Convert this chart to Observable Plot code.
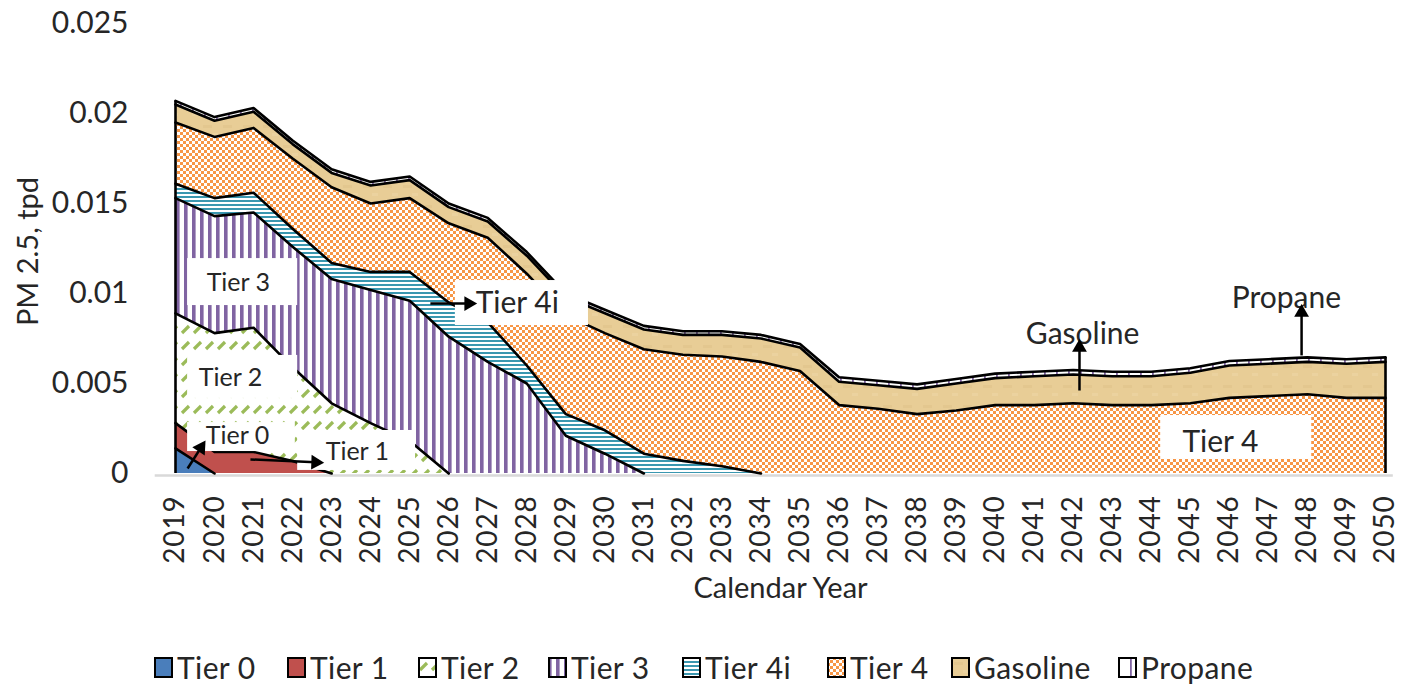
<!DOCTYPE html>
<html>
<head>
<meta charset="utf-8">
<script src="https://cdn.jsdelivr.net/npm/d3@7"></script>
<script src="https://cdn.jsdelivr.net/npm/@observablehq/plot@0.6"></script>
<style>
  html, body { margin: 0; padding: 0; background: #fff; }
  body { width: 1413px; height: 684px; overflow: hidden; font-family: Lato, "Noto Sans", sans-serif; color: #262626; }
  #chart svg g[aria-label="x-axis tick label"] text { letter-spacing: 0.8px; }
  #legend { position: relative; height: 44px; }
  .item { position: absolute; top: 5px; display: flex; align-items: center; font-size: 30px; line-height: 44px; color: #262626; letter-spacing: 0.4px; }
  .item svg { margin-right: 4px; }
</style>
</head>
<body>
<svg width="0" height="0" style="position:absolute">
  <defs>
    <pattern id="pTier2" patternUnits="userSpaceOnUse" width="12" height="16">
      <rect width="12" height="16" fill="#fff"/>
      <line x1="2" y1="13" x2="9" y2="6" stroke="#9bbb59" stroke-width="3.2"/>
    </pattern>
    <pattern id="pTier3" patternUnits="userSpaceOnUse" width="8" height="8">
      <rect width="8" height="8" fill="#fff"/>
      <rect x="0" y="0" width="3.6" height="8" fill="#8064a2"/>
    </pattern>
    <pattern id="pTier4i" patternUnits="userSpaceOnUse" width="8" height="4">
      <rect width="8" height="4" fill="#fff"/>
      <rect x="0" y="0" width="8" height="2" fill="#3a97b0"/>
    </pattern>
    <pattern id="pTier4" patternUnits="userSpaceOnUse" width="6" height="6">
      <rect width="6" height="6" fill="#fff"/>
      <rect x="0" y="0" width="3" height="3" fill="#f79646"/>
      <rect x="3" y="3" width="3" height="3" fill="#f79646"/>
    </pattern>
    <pattern id="pGas" patternUnits="userSpaceOnUse" width="20" height="20">
      <rect width="20" height="20" fill="#e8cd96"/>
      <rect x="3" y="5" width="9" height="3" fill="#e2c58c" opacity="0.7"/>
      <rect x="12" y="13" width="6" height="3" fill="#edd5a3" opacity="0.7"/>
    </pattern>
    <pattern id="pPropane" patternUnits="userSpaceOnUse" width="12" height="12">
      <rect width="12" height="12" fill="#fff"/>
      <rect x="0" y="0" width="1.8" height="12" fill="#8064a2"/>
    </pattern>
  </defs>
</svg>
<div id="chart"></div>
<div id="legend"></div>
<script>
// ---------- data ----------
const years = [2019,2020,2021,2022,2023,2024,2025,2026,2027,2028,2029,2030,2031,2032,2033,2034,
               2035,2036,2037,2038,2039,2040,2041,2042,2043,2044,2045,2046,2047,2048,2049,2050];
const seriesNames = ["Tier 0","Tier 1","Tier 2","Tier 3","Tier 4i","Tier 4","Gasoline","Propane"];

const tier0 = [0.0014,0,0,0,0,0,0,0,0,0,0,0,0,0,0,0,0,0,0,0,0,0,0,0,0,0,0,0,0,0,0,0];
const tier1 = [0.0014,0.0012,0.0012,0.0007,0,0,0,0,0,0,0,0,0,0,0,0,0,0,0,0,0,0,0,0,0,0,0,0,0,0,0,0];
const tier2 = [0.0061,0.0066,0.0069,0.0052,0.0039,0.0028,0.0018,0,0,0,0,0,0,0,0,0,0,0,0,0,0,0,0,0,0,0,0,0,0,0,0,0];
const tier3 = [0.0064,0.0065,0.0064,0.0067,0.0069,0.0074,0.0078,0.0076,0.0062,0.0050,0.0021,0.0011,0,0,0,0,0,0,0,0,0,0,0,0,0,0,0,0,0,0,0,0];
const tier4i = [0.0008,0.0010,0.0011,0.0010,0.0009,0.0010,0.0016,0.0019,0.0022,0.0010,0.0012,0.0013,0.0011,0.0007,0.0004,0,0,0,0,0,0,0,0,0,0,0,0,0,0,0,0,0];
const tier4 = [0.0034,0.0034,0.0036,0.0039,0.0042,0.0038,0.0041,0.0044,0.0047,0.0051,0.0055,0.0054,0.0058,0.0059,0.0061,0.0062,
               0.0057,0.0038,0.0036,0.0033,0.0035,0.0038,0.0038,0.0039,0.0038,0.0038,0.0039,0.0042,0.0043,0.0044,0.0042,0.0042];
const gasoline = [0.0010,0.0009,0.0009,0.0008,0.0008,0.0010,0.0010,0.0009,0.0009,0.0010,
                  0.0010,0.0011,0.0011,0.0011,0.0012,0.0013,0.0013,0.0013,0.0013,0.0014,
                  0.0015,0.0015,0.0016,0.0016,0.0016,0.0016,0.0017,0.0018,0.0018,0.0018,
                  0.0019,0.0020];
const propane = [0.0002,0.0002,0.0002,0.0002,0.0002,0.0002,0.0002,0.0002,0.0002,0.0002,0.0002,0.0002,0.0002,0.0002,0.0002,0.0002,0.0002,
                 0.00025,0.00025,0.00025,0.00025,0.00025,0.00025,0.00025,0.00025,0.00025,0.00025,0.00025,0.00025,0.00025,0.00025,0.00025];
const yTicks = [0, 0.005, 0.01, 0.015, 0.02, 0.025];

// annotations (data coordinates: year, value)
const boxes = [
  {x1: 2019.31, x2: 2022.13, y1: 0.00933, y2: 0.01194},  // Tier 3
  {x1: 2019.31, x2: 2022.13, y1: 0.00417, y2: 0.00656},  // Tier 2
  {x1: 2019.31, x2: 2022.07, y1: 0.00122, y2: 0.00283},  // Tier 0
  {x1: 2022.13, x2: 2025.15, y1: 0.00017, y2: 0.00239},  // Tier 1
  {x1: 2026.17, x2: 2029.58, y1: 0.00822, y2: 0.01072},  // Tier 4i
  {x1: 2044.24, x2: 2048.11, y1: 0.00078, y2: 0.00322}   // Tier 4
];
const smallLabels = [
  {text: "Tier 3", year: 2020.61, value: 0.01056},
  {text: "Tier 2", year: 2020.41, value: 0.00533},
  {text: "Tier 0", year: 2020.59, value: 0.00211},
  {text: "Tier 1", year: 2023.66, value: 0.00117}
];
const bigLabels = [
  {text: "Tier 4", year: 2045.77, value: 0.00172, anchor: "middle"},
  {text: "Gasoline", year: 2042.24, value: 0.00772, anchor: "middle"},
  {text: "Propane", year: 2047.46, value: 0.00972, anchor: "middle"},
  {text: "Tier 4i", year: 2026.69, value: 0.00944, anchor: "start"}
];
const arrows = [
  {x1: 2019.31, y1: 0.00028, x2: 2019.65, y2: 0.00143, angle: 33},
  {x1: 2020.92, y1: 0.00078, x2: 2022.59, y2: 0.00062, angle: 92},
  {x1: 2025.53, y1: 0.00944, x2: 2026.51, y2: 0.00944, angle: 90},
  {x1: 2042.16, y1: 0.00461, x2: 2042.16, y2: 0.00700, angle: 0},
  {x1: 2047.85, y1: 0.00656, x2: 2047.85, y2: 0.00894, angle: 0}
];

// ---------- build tables ----------
const seriesValues = [tier0, tier1, tier2, tier3, tier4i, tier4, gasoline, propane];
const seriesFills = ["#4a7ebb", "#c0504d", "url(#pTier2)", "url(#pTier3)", "url(#pTier4i)", "url(#pTier4)", "url(#pGas)", "url(#pPropane)"];

const rows = [];
seriesNames.forEach((s, k) => years.forEach((yr, i) => rows.push({series: s, year: yr, value: seriesValues[k][i]})));

// cumulative tops for boundary lines (break where a series has vanished)
const lineRows = [];
const running = years.map(() => 0);
seriesNames.forEach((s, k) => {
  const v = seriesValues[k];
  years.forEach((yr, i) => {
    running[i] += v[i];
    const show = v[i] > 0 || (i > 0 && v[i - 1] > 0) || (i < v.length - 1 && v[i + 1] > 0);
    lineRows.push({series: s, year: yr, top: show ? running[i] : NaN});
  });
});
const totals = running.slice();
const edges = [{year: years[0], total: totals[0]}, {year: years[years.length - 1], total: totals[totals.length - 1]}];

const chart = Plot.plot({
  width: 1413,
  height: 640,
  marginLeft: 175,
  marginRight: 28,
  marginTop: 23,
  marginBottom: 167,
  style: {fontFamily: "Lato, 'Noto Sans', sans-serif", background: "white", color: "#262626", overflow: "visible"},
  x: {domain: [2019, 2050], label: null},
  y: {domain: [0, 0.025], label: null},
  color: {domain: seriesNames, range: seriesFills, legend: false},
  marks: [
    Plot.ruleY([0], {x1: 2018.48, x2: 2050.2, stroke: "#d9d9d9", strokeWidth: 2.5, dy: 2}),
    Plot.areaY(rows, {x: "year", y: "value", z: "series", fill: "series", order: seriesNames}),
    Plot.line(lineRows, {x: "year", y: "top", z: "series", stroke: "black", strokeWidth: 2.6, strokeLinejoin: "round"}),
    Plot.ruleX(edges, {x: "year", y1: 0, y2: "total", stroke: "black", strokeWidth: 2.6}),
    Plot.rect(boxes, {x1: "x1", x2: "x2", y1: "y1", y2: "y2", fill: "white"}),
    Plot.text(smallLabels, {x: "year", y: "value", text: "text", fontSize: 25, fill: "#262626"}),
    Plot.text(bigLabels, {x: "year", y: "value", text: "text", fontSize: 30, textAnchor: "start", fill: "#262626",
      filter: d => d.anchor === "start"}),
    Plot.text(bigLabels, {x: "year", y: "value", text: "text", fontSize: 30, fill: "#262626",
      filter: d => d.anchor === "middle"}),
    Plot.link(arrows, {x1: "x1", y1: "y1", x2: "x2", y2: "y2", stroke: "black", strokeWidth: 2.5}),
    Plot.dot(arrows, {x: "x2", y: "y2", symbol: "triangle", r: 5.5, fill: "black", stroke: "none", rotate: "angle"}),
    Plot.axisY({ticks: yTicks, tickFormat: d => String(d), tickSize: 0, tickPadding: 47, fontSize: 30, label: null}),
    Plot.axisX({ticks: years, tickFormat: d => String(d), tickRotate: -90, tickSize: 0, tickPadding: 22, fontSize: 28, label: null}),
    Plot.text(["Calendar Year"], {frameAnchor: "bottom", lineAnchor: "middle", dy: 115, fontSize: 29, fill: "#262626"}),
    Plot.text(["PM 2.5, tpd"], {frameAnchor: "left", textAnchor: "middle", lineAnchor: "middle", dx: -147, dy: 3, rotate: -90, fontSize: 29, fill: "#262626"})
  ]
});
document.getElementById("chart").appendChild(chart);

// ---------- legend ----------
const legendLeft = [154, 287, 418, 548, 682, 827, 951, 1118];
const legend = document.getElementById("legend");
seriesNames.forEach((s, k) => {
  const item = document.createElement("div");
  item.className = "item";
  item.style.left = legendLeft[k] + "px";
  item.innerHTML = `<svg width="19" height="21"><rect x="1" y="1" width="17" height="19" fill="${seriesFills[k]}" stroke="black" stroke-width="2"/></svg><span>${s}</span>`;
  legend.appendChild(item);
});
</script>
</body>
</html>
